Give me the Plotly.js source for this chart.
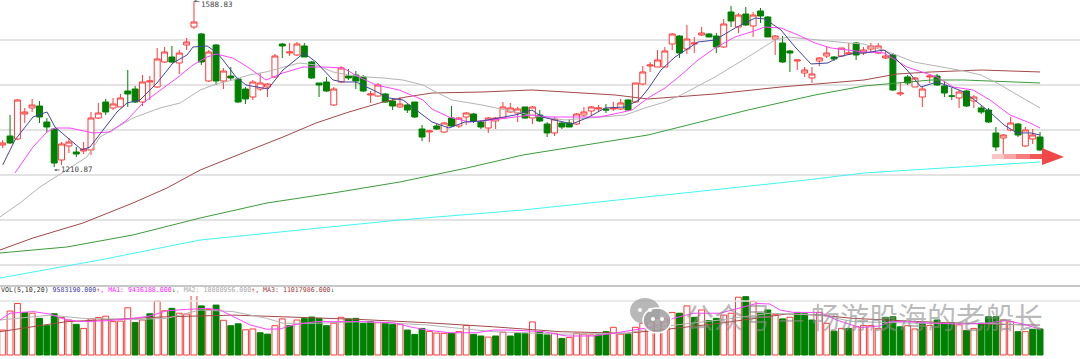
<!DOCTYPE html>
<html><head><meta charset="utf-8">
<script src="https://cdn.plot.ly/plotly-3.0.1.min.js"></script>
<style>html,body{margin:0;padding:0;background:#fff;}#chart{width:1080px;height:359px;}</style>
</head><body><div id="chart"></div>
<script>
// ---- Price candles (index = trading day) ----
const openP = [1260.9,1281.4,1274.6,1331.5,1345.2,1349.7,1313.3,1297.4,1226.8,1258.7,
1245.0,1247.3,1249.6,1322.4,1358.8,1345.2,1347.5,1383.9,1388.4,1358.8,
1404.4,1393.0,1449.9,1461.3,1447.7,1488.6,1529.6,1513.7,1406.7,1488.6,
1406.7,1418.0,1411.2,1388.4,1370.2,1388.4,1393.0,1415.8,1490.9,1470.4,
1465.9,1486.4,1449.9,1402.1,1404.4,1352.0,1404.4,1418.0,1420.3,1415.8,
1374.8,1372.5,1377.1,1361.1,1347.5,1352.0,1358.8,1297.4,1290.5,1304.2,
1290.5,1322.4,1304.2,1324.7,1331.5,1313.3,1299.6,1315.6,1322.4,1336.1,
1333.8,1347.5,1322.4,1329.2,1308.7,1288.3,1311.0,1311.0,1308.7,1329.2,
1338.3,1342.9,1342.9,1342.9,1342.9,1363.4,1358.8,1399.8,1440.8,1438.5,
1438.5,1490.9,1509.1,1479.5,1490.9,1511.4,1513.7,1509.1,1484.1,1563.8,
1529.6,1559.2,1531.9,1566.1,1552.4,1502.3,1493.2,1475.0,1452.2,1424.9,
1413.5,1452.2,1463.6,1461.3,1463.6,1468.1,1493.2,1470.4,1479.5,1470.4,
1459.0,1465.9,1377.1,1415.8,1393.0,1370.2,1415.8,1418.0,1395.3,1372.5,
1368.0,1383.9,1361.1,1345.2,1340.6,1288.3,1276.9,1295.1,1308.7,1258.7,
1274.6,1279.1];
const highP = [1272.3,1329.2,1365.7,1345.2,1365.7,1361.1,1322.4,1299.6,1267.8,1276.9,
1256.4,1267.8,1336.1,1356.6,1365.7,1368.0,1377.1,1431.7,1395.3,1420.3,
1418.0,1481.8,1484.1,1486.4,1477.3,1504.6,1588.83,1516.0,1477.3,1490.9,
1436.3,1438.5,1413.5,1393.0,1408.9,1424.9,1402.1,1468.1,1493.2,1493.2,
1495.5,1493.2,1452.2,1402.1,1415.8,1393.0,1440.8,1434.0,1429.4,1420.3,
1383.9,1402.1,1379.3,1365.7,1370.2,1354.3,1358.8,1306.5,1295.1,1308.7,
1313.3,1349.7,1324.7,1336.1,1333.8,1317.9,1324.7,1324.7,1358.8,1356.6,
1347.5,1347.5,1349.7,1340.6,1313.3,1324.7,1313.3,1317.9,1333.8,1347.5,
1349.7,1352.0,1354.3,1358.8,1365.7,1365.7,1402.1,1440.8,1449.9,1477.3,
1484.1,1516.0,1511.4,1534.2,1506.9,1529.6,1516.0,1516.0,1547.8,1577.4,
1561.5,1575.2,1563.8,1572.9,1554.7,1511.4,1509.1,1477.3,1454.5,1438.5,
1438.5,1461.3,1486.4,1463.6,1481.8,1493.2,1495.5,1484.1,1493.2,1493.2,
1477.3,1470.4,1404.4,1420.3,1415.8,1395.3,1422.6,1422.6,1406.7,1390.7,
1386.2,1386.2,1374.8,1349.7,1345.2,1301.9,1286.0,1324.7,1311.0,1301.9,
1297.4,1290.5];
const lowP = [1254.1,1263.2,1272.3,1311.0,1336.1,1311.0,1290.5,1210.87,1215.4,1242.7,
1233.6,1240.4,1238.2,1320.1,1329.2,1340.6,1347.5,1347.5,1356.6,1349.7,
1363.4,1390.7,1447.7,1447.7,1422.6,1477.3,1525.1,1443.1,1404.4,1397.6,
1388.4,1408.9,1356.6,1354.3,1363.4,1383.9,1370.2,1413.5,1459.0,1463.6,
1463.6,1461.3,1411.2,1370.2,1381.6,1349.7,1402.1,1408.9,1388.4,1381.6,
1356.6,1370.2,1356.6,1340.6,1345.2,1333.8,1322.4,1270.0,1267.8,1295.1,
1288.3,1301.9,1299.6,1306.5,1311.0,1297.4,1288.3,1297.4,1320.1,1333.8,
1313.3,1320.1,1308.7,1313.3,1279.1,1281.4,1297.4,1301.9,1306.5,1324.7,
1327.0,1336.1,1333.8,1338.3,1340.6,1338.3,1356.6,1397.6,1427.2,1438.5,
1438.5,1477.3,1459.0,1468.1,1470.4,1509.1,1506.9,1470.4,1481.8,1529.6,
1516.0,1531.9,1506.9,1538.7,1506.9,1465.9,1447.7,1427.2,1431.7,1415.8,
1402.1,1440.8,1459.0,1452.2,1461.3,1465.9,1454.5,1465.9,1470.4,1468.1,
1456.8,1383.9,1372.5,1397.6,1393.0,1347.5,1402.1,1395.3,1370.2,1363.4,
1345.2,1347.5,1345.2,1331.5,1311.0,1247.3,1240.4,1292.8,1279.1,1256.4,
1263.2,1247.3];
const closeP = [1265.5,1265.5,1363.4,1336.1,1352.0,1324.7,1301.9,1219.9,1263.2,1267.8,
1240.4,1251.8,1322.4,1333.8,1336.1,1354.3,1368.0,1377.1,1358.8,1404.4,
1406.7,1456.8,1472.7,1449.9,1470.4,1495.5,1541.0,1449.9,1472.7,1406.7,
1429.4,1413.5,1358.8,1365.7,1404.4,1402.1,1399.8,1463.6,1486.4,1472.7,
1490.9,1461.3,1413.5,1397.6,1383.9,1388.4,1436.3,1413.5,1406.7,1383.9,
1377.1,1397.6,1358.8,1349.7,1354.3,1340.6,1324.7,1279.1,1292.8,1297.4,
1311.0,1304.2,1322.4,1333.8,1315.6,1301.9,1322.4,1322.4,1347.5,1345.2,
1342.9,1322.4,1347.5,1315.6,1288.3,1320.1,1301.9,1301.9,1331.5,1336.1,
1347.5,1345.2,1340.6,1345.2,1356.6,1340.6,1402.1,1427.2,1443.1,1454.5,
1475.0,1513.7,1470.4,1502.3,1493.2,1516.0,1506.9,1484.1,1536.5,1543.3,
1556.9,1534.2,1556.9,1554.7,1506.9,1509.1,1449.9,1470.4,1454.5,1431.7,
1422.6,1459.0,1470.4,1456.8,1481.8,1470.4,1465.9,1477.3,1486.4,1486.4,
1463.6,1386.2,1379.3,1402.1,1413.5,1388.4,1418.0,1397.6,1379.3,1372.3,
1381.6,1349.7,1370.2,1336.1,1313.3,1256.4,1283.7,1311.0,1283.7,1295.1,
1283.7,1249.6];
const dayIdx = openP.map((_, i) => i);

// ---- Price moving averages, read at sample days ----
const ma5X = [0,1.67,4.12,6.02,7.11,8.74,10.78,11.87,13.63,15.54,16.9,18.66,20.97,23.15,25.05,25.87,27.77,29.0,29.95,31.71,33.07,34.84,36.06,38.1,40.95,42.59,44.9,46.26,48.02,50.33,52.51,54.41,56.18,58.35,60.66,62.84,65.15,67.46,69.63,71.94,73.3,75.61,77.38,79.69,81.87,84.59,86.49,87.72,89.48,91.38,94.51,96.82,99.54,102.26,103.62,105.79,107.7,109.87,112.18,113.54,115.85,117.07,119.79,121.15,122.92,124.82,126.99,129.3,130.66,132.97,134.33,136.1,137.87,139.77,141];
const ma5Y = [1215.4,1272.3,1324.7,1336.1,1301.9,1279.1,1249.6,1256.4,1295.1,1336.1,1356.6,1363.4,1402.1,1447.7,1465.9,1484.1,1486.4,1472.7,1454.5,1415.8,1397.6,1393.0,1388.4,1431.7,1470.4,1449.9,1408.9,1404.4,1404.4,1386.2,1368.0,1363.4,1340.6,1313.3,1299.6,1313.3,1315.6,1322.4,1329.2,1340.6,1324.7,1315.6,1308.7,1324.7,1345.2,1347.5,1363.4,1388.4,1431.7,1461.3,1495.5,1500.0,1527.3,1550.1,1547.8,1522.8,1484.1,1445.4,1447.7,1461.3,1470.4,1470.4,1477.3,1461.3,1431.7,1393.0,1404.4,1390.7,1381.6,1352.0,1333.8,1306.5,1288.3,1288.3,1283.7];
const ma10X = [1.67,4.12,6.02,7.11,9.15,12.27,14.59,16.9,19.07,20.97,23.69,25.87,27.77,29.0,31.3,33.48,35.79,38.1,40.82,43.53,46.26,48.43,50.74,53.87,57.13,58.35,60.66,63.38,66.51,69.63,71.94,74.25,76.43,78.74,81.05,83.77,85.54,87.72,90.03,92.2,94.51,96.82,99.54,101.71,103.62,105.79,108.1,110.41,112.59,114.9,117.07,119.79,122.92,126.99,129.17,131.89,134.2,136.92,139.63,141];
const ma10Y = [1197.2,1256.4,1290.5,1299.6,1299.6,1288.3,1290.5,1317.9,1356.6,1379.3,1413.5,1443.1,1461.3,1468.1,1459.0,1436.3,1408.9,1424.9,1438.5,1438.5,1436.3,1415.8,1397.6,1386.2,1363.4,1342.9,1324.7,1313.3,1317.9,1324.7,1329.2,1324.7,1324.7,1324.7,1324.7,1333.8,1340.6,1368.0,1390.7,1420.3,1454.5,1481.8,1506.9,1518.2,1529.6,1527.3,1511.4,1493.2,1481.8,1477.3,1472.7,1470.4,1438.5,1415.8,1393.0,1386.2,1363.4,1329.2,1311.0,1299.6];
const ma20X = [-0.37,2.35,5.07,8.74,11.46,13.23,15.54,17.71,21.38,24.13,26.85,29.0,31.3,33.48,35.79,38.1,40.27,42.59,44.9,47.07,49.38,51.69,54.41,57.13,58.35,61.07,65.15,69.63,73.3,76.43,79.69,82.41,84.59,87.72,90.03,92.2,96.82,101.3,104.97,106.74,110.41,114.9,117.07,120.74,123.87,128.35,130.66,132.97,135.15,137.46,139.77,141];
const ma20Y = [1097.0,1128.9,1165.3,1204.0,1233.6,1279.1,1301.9,1322.4,1345.2,1356.6,1386.2,1399.8,1408.9,1420.3,1427.2,1438.5,1447.7,1443.1,1427.2,1420.3,1415.8,1413.5,1408.9,1397.6,1386.2,1363.4,1352.0,1336.1,1324.7,1317.9,1322.4,1324.7,1329.2,1347.5,1358.8,1374.8,1415.8,1461.3,1500.0,1506.9,1500.0,1493.2,1490.9,1470.4,1449.9,1436.3,1429.4,1420.3,1402.1,1379.3,1356.6,1345.2];
const ma60X = [-0.37,4.12,10.91,17.71,22.33,26.85,33.65,38.1,42.59,47.07,51.69,54.82,58.35,65.15,71.94,78.74,83.23,87.72,96.82,105.79,117.07,121.56,126.18,132.97,141];
const ma60Y = [1021.8,1049.2,1083.3,1128.9,1163.0,1204.0,1249.6,1279.1,1311.0,1336.1,1358.8,1370.2,1379.3,1381.6,1386.2,1379.3,1374.8,1365.7,1377.1,1393.0,1408.9,1422.6,1427.2,1431.7,1427.2];
const ma120X = [-0.37,8.74,17.71,26.85,35.93,44.9,54.0,63.11,70.72,87.72,101.3,110.41,117.07,121.56,126.18,130.66,141];
const ma120Y = [1015.0,1028.7,1056.0,1094.7,1128.9,1151.6,1176.7,1208.6,1238.2,1283.7,1340.6,1374.8,1395.3,1402.1,1408.9,1408.9,1402.1];
const ma250X = [-0.37,13.23,26.85,40.41,54.0,70.72,109.32,117.07,141];
const ma250Y = [958.1,999.1,1044.6,1067.4,1090.2,1112.9,1181.3,1197.2,1222.2];

// ---- Volume (millions of shares) ----
const volume = [9.2,16.2,19.0,15.7,15.4,13.5,10.8,15.2,13.8,12.9,
11.3,9.8,13.3,13.8,14.3,12.3,12.5,17.4,12.0,12.9,
15.2,19.9,16.3,17.2,15.4,15.1,22.4,18.1,16.8,18.4,
12.8,10.8,11.5,9.3,9.6,8.2,7.7,10.8,13.3,10.8,
12.9,13.4,14.0,13.5,10.8,11.7,13.9,13.3,13.5,11.7,
12.3,11.9,11.9,11.3,11.3,9.2,7.6,9.8,8.7,8.1,
8.0,8.0,8.6,10.9,7.6,7.0,6.6,7.0,8.4,7.0,
8.0,8.0,12.2,8.6,7.4,8.0,6.1,6.4,8.0,7.7,
7.4,7.4,8.6,10.2,7.7,7.7,10.2,11.7,12.3,13.5,
13.3,15.7,15.4,18.1,13.9,16.6,12.7,13.5,14.7,15.4,
21.3,21.5,19.7,15.4,16.6,15.0,13.3,13.9,15.7,15.2,
12.9,15.7,11.7,8.8,9.8,9.8,10.4,10.9,10.9,9.8,
13.9,14.1,10.4,10.8,9.6,11.7,10.9,12.9,11.7,11.9,
11.1,9.0,9.8,11.7,14.1,14.1,12.9,12.3,8.6,8.6,
9.5,9.58];
// 1 = close above previous close (hollow red), -1 = below (solid green)
const volDir = [1,1,1,-1,1,-1,-1,-1,1,1,
-1,1,1,1,1,1,1,1,-1,1,
-1,1,1,-1,1,1,1,-1,1,-1,
1,-1,-1,1,1,-1,-1,1,1,-1,
1,-1,-1,-1,-1,1,1,-1,-1,-1,
-1,1,-1,-1,1,-1,-1,-1,1,1,
1,-1,1,1,-1,-1,1,-1,1,-1,
-1,-1,1,-1,-1,1,-1,1,1,1,
1,-1,-1,1,1,-1,1,1,1,1,
1,1,-1,1,-1,1,-1,-1,1,1,
1,-1,1,-1,-1,1,-1,1,-1,-1,
-1,1,1,-1,1,-1,1,1,1,1,
-1,-1,-1,1,1,-1,1,-1,-1,-1,
1,-1,1,-1,-1,-1,1,1,-1,1,
-1,-1];
const vma5X = [-0.37,0.99,4.16,6.43,8.69,10.96,14.58,17.75,20.02,22.29,25.0,27.72,29.54,31.35,33.61,35.88,37.69,39.5,42.67,44.94,48.57,53.1,55.37,57.63,60.8,64.42,66.69,68.95,73.48,76.66,80.28,83.0,85.72,88.44,91.16,93.87,97.5,100.2,102.47,104.28,105.64,107.45,111.08,113.34,116.51,119.23,120.59,122.85,126.48,130.1,133.73,136.45,139.17,141];
const vma5Y = [12.9,15.4,16.0,15.1,12.9,12.3,12.7,13.5,14.4,16.3,16.8,17.2,16.6,14.1,11.1,9.5,9.6,11.1,12.3,12.3,12.3,11.9,10.4,9.2,8.2,8.2,9.2,9.2,8.6,7.0,7.0,8.0,9.2,10.4,13.5,15.4,15.4,17.2,19.0,18.8,16.6,15.7,15.7,12.9,10.1,10.7,12.3,12.3,11.7,11.4,11.7,12.7,11.1,9.44];
const vma10X = [-0.37,6.43,10.96,17.75,22.29,26.82,31.35,35.88,38.15,42.67,48.57,57.63,62.16,66.69,75.75,84.81,89.34,97.5,104.28,111.08,115.61,124.67,133.73,141];
const vma10Y = [12.9,14.7,13.5,13.1,13.5,16.6,16.0,13.5,11.7,11.7,12.3,11.1,9.8,8.6,7.7,8.0,10.4,12.9,15.4,14.7,12.3,11.7,11.7,10.81];
const vma20X = [-0.37,4.16,8.69,13.22,22.29,31.35,40.41,48.57,57.63,66.69,75.75,84.81,89.34,97.5,106.54,111.08,115.61,124.67,133.73,141];
const vma20Y = [8.6,10.4,12.3,12.9,14.1,14.7,13.9,13.1,11.9,10.4,8.6,8.0,9.2,11.7,15.1,14.7,13.5,12.3,11.4,11.02];

// ---- Labels ----
const highLabel = '1588.83', lowLabel = '1210.87';
const highDay = 26, lowDay = 7;
const volHeader = [
  ['VOL(5,10,20) ', '#333333'],
  ['9583190.000', '#3c3ca0'], ['↑', '#ff2020'],
  [', MA1: 9436188.000', '#ff20ff'], ['↓', '#109010'],
  [', MA2: 10808956.000', '#a8a8a8'], ['↑', '#ff2020'],
  [', MA3: 11017986.000', '#a03a3a'], ['↓', '#109010']
];
const watermark = '公众号 — 畅游股海的老船长';

// ---- layout helpers (pixel -> paper) ----
const W = 1080, H = 359;
const px = x => x / W, py = y => 1 - y / H;

const red = '#ff3a3a', green = '#008000';
const traces = [];
traces.push({
  type: 'candlestick', x: dayIdx, open: openP, high: highP, low: lowP, close: closeP,
  xaxis: 'x', yaxis: 'y', whiskerwidth: 0,
  increasing: {line: {color: red, width: 1}, fillcolor: '#ffffff'},
  decreasing: {line: {color: green, width: 1}, fillcolor: green},
  hoverinfo: 'skip', showlegend: false
});
function line(x, y, color, yaxis) {
  traces.push({type: 'scatter', mode: 'lines', x, y, yaxis: yaxis || 'y',
    line: {color, width: 1}, hoverinfo: 'skip', showlegend: false});
}
line(ma250X, ma250Y, '#44f4f4');
line(ma120X, ma120Y, '#3c9c3c');
line(ma60X, ma60Y, '#a44848');
line(ma20X, ma20Y, '#b4b4b4');
line(ma10X, ma10Y, '#ff44ff');
line(ma5X, ma5Y, '#44449c');

traces.push({
  type: 'bar', x: dayIdx, y: volume, yaxis: 'y2', width: 0.8,
  marker: {color: volDir.map(d => d > 0 ? '#ffffff' : green),
           line: {color: volDir.map(d => d > 0 ? red : green), width: 1}},
  hoverinfo: 'skip', showlegend: false
});
line(vma20X, vma20Y, '#a44848', 'y2');
line(vma10X, vma10Y, '#b4b4b4', 'y2');
line(vma5X, vma5Y, '#ff44ff', 'y2');

const headerText = volHeader.map(([t, c]) => `<span style="color:${c}">${t}</span>`).join('');

const shapes = [
  {type: 'line', xref: 'paper', yref: 'paper', x0: 0, x1: 1, y0: py(286), y1: py(286), line: {color: '#c8c8c8', width: 2}},
  {type: 'line', xref: 'paper', yref: 'paper', x0: 0, x1: 1, y0: py(301), y1: py(301), line: {color: '#e2e2e2', width: 1.5}},
  // red arrow (decoration)
  {type: 'rect', xref: 'paper', yref: 'paper', x0: px(992), x1: px(1004), y0: py(159), y1: py(154), fillcolor: 'rgba(240,90,90,0.35)', line: {width: 0}},
  {type: 'rect', xref: 'paper', yref: 'paper', x0: px(1004), x1: px(1016), y0: py(159), y1: py(154), fillcolor: 'rgba(240,90,90,0.55)', line: {width: 0}},
  {type: 'rect', xref: 'paper', yref: 'paper', x0: px(1016), x1: px(1030), y0: py(159), y1: py(154), fillcolor: 'rgba(240,80,80,0.75)', line: {width: 0}},
  {type: 'rect', xref: 'paper', yref: 'paper', x0: px(1030), x1: px(1044), y0: py(159), y1: py(154), fillcolor: 'rgba(240,70,70,0.92)', line: {width: 0}},
  {type: 'path', xref: 'paper', yref: 'paper',
   path: `M ${px(1042)} ${py(148)} L ${px(1064)} ${py(157)} L ${px(1042)} ${py(165)} Z`,
   fillcolor: '#f04848', line: {width: 0}},
  // WeChat icon bubbles
  {type: 'circle', xref: 'paper', yref: 'paper', x0: px(630), x1: px(660), y0: py(324), y1: py(298), fillcolor: 'rgba(160,160,160,0.75)', line: {width: 0}},
  {type: 'circle', xref: 'paper', yref: 'paper', x0: px(643), x1: px(671), y0: py(333), y1: py(308), fillcolor: 'rgba(160,160,160,0.85)', line: {color: '#ffffff', width: 1.5}},
  {type: 'circle', xref: 'paper', yref: 'paper', x0: px(638), x1: px(642), y0: py(312), y1: py(308), fillcolor: '#ffffff', line: {width: 0}},
  {type: 'circle', xref: 'paper', yref: 'paper', x0: px(648), x1: px(652), y0: py(312), y1: py(308), fillcolor: '#ffffff', line: {width: 0}},
  {type: 'circle', xref: 'paper', yref: 'paper', x0: px(651), x1: px(655), y0: py(321), y1: py(317), fillcolor: '#ffffff', line: {width: 0}},
  {type: 'circle', xref: 'paper', yref: 'paper', x0: px(660), x1: px(664), y0: py(321), y1: py(317), fillcolor: '#ffffff', line: {width: 0}}
];

const annotations = [
  {x: highDay, y: highP[highDay], xref: 'x', yref: 'y', text: highLabel, showarrow: true,
   ax: 23, ay: 3, arrowhead: 2, arrowsize: 0.6, arrowwidth: 0.8, arrowcolor: '#555',
   font: {family: 'DejaVu Sans Mono', size: 7.5, color: '#444'}},
  {x: lowDay, y: 1204.0, xref: 'x', yref: 'y', text: lowLabel, showarrow: true,
   ax: 23, ay: 0, arrowhead: 2, arrowsize: 0.6, arrowwidth: 0.8, arrowcolor: '#555',
   font: {family: 'DejaVu Sans Mono', size: 7.5, color: '#444'}},
  {x: px(-1), y: py(290), xref: 'paper', yref: 'paper', xanchor: 'left', yanchor: 'middle',
   text: headerText, showarrow: false, font: {family: 'DejaVu Sans Mono', size: 6.6, color: '#333'}},
  {x: px(683), y: py(316), xref: 'paper', yref: 'paper', xanchor: 'left', yanchor: 'middle',
   text: watermark, showarrow: false,
   font: {family: 'Noto Sans CJK SC', size: 29, color: 'rgba(140,140,140,0.6)'}}
];

const layout = {
  width: W, height: H, margin: {l: 0, r: 0, t: 0, b: 0},
  paper_bgcolor: '#ffffff', plot_bgcolor: '#ffffff',
  hovermode: false, showlegend: false, dragmode: false,
  boxgap: 0.1, boxgroupgap: 0.1, bargap: 0,
  xaxis: {range: [-0.367, 146.43], showgrid: false, zeroline: false, showticklabels: false,
          ticks: '', rangeslider: {visible: false}, anchor: 'y2', fixedrange: true},
  yaxis: {domain: [py(285), 1], range: [942.1, 1591.1], tickvals: [1500, 1397.5, 1295, 1192.5, 1090, 987.5],
          showticklabels: false, ticks: '', gridcolor: '#e3e3e3', gridwidth: 1.5, zeroline: false, fixedrange: true},
  yaxis2: {domain: [0, py(296)], range: [-1.474, 21.75], showgrid: false, showticklabels: false,
           ticks: '', zeroline: false, fixedrange: true},
  shapes, annotations
};
Plotly.newPlot('chart', traces, layout, {staticPlot: true, displayModeBar: false});
</script></body></html>
